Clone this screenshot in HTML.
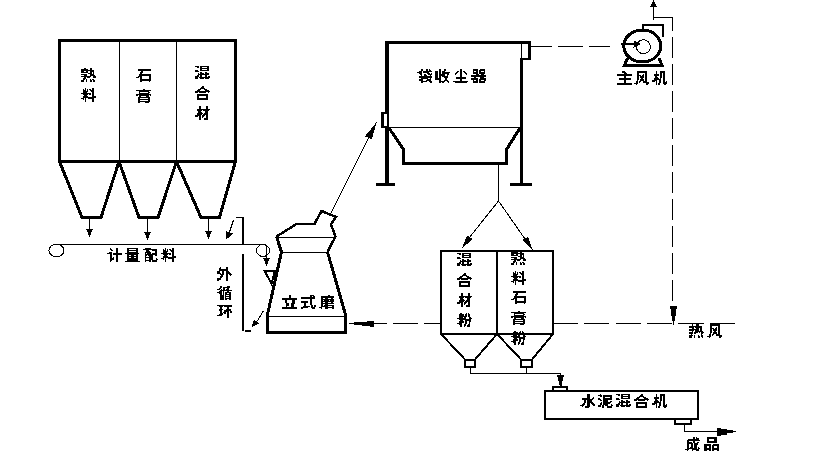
<!DOCTYPE html>
<html><head><meta charset="utf-8"><title>diagram</title>
<style>html,body{margin:0;padding:0;background:#fff;width:837px;height:453px;overflow:hidden;font-family:"Liberation Sans",sans-serif}svg{display:block}</style>
</head><body>
<svg width="837" height="453" viewBox="0 0 837 453" shape-rendering="crispEdges">
<rect width="837" height="453" fill="#fff"/>
<g fill="none" stroke="#000" stroke-linejoin="miter" stroke-miterlimit="10">
<!-- silos -->
<path d="M59.5 40.5H235.5V161.5H59.5Z" stroke-width="3"/>
<path d="M119.5 42V160M176.5 42V160" stroke-width="1"/>
<path d="M59.5 161.5L82 217.5H101L119 161.5" stroke-width="3"/>
<path d="M119 161.5L139 217.5H158L176.5 161.5" stroke-width="3"/>
<path d="M176.5 161.5L201 217.5H219.5L235.5 161.5" stroke-width="3"/>
<!-- down arrows -->
<path d="M89.5 219V232M147.5 219V234M208.5 219V233" stroke-width="1"/>
<path d="M233.6 219.7L229 233" stroke-width="1.3"/>
<!-- belt -->
<path d="M55 244.5H260" stroke-width="1"/>
<ellipse cx="56.5" cy="250.5" rx="7.5" ry="6.2" stroke-width="1"/>
<ellipse cx="263" cy="250.5" rx="6.5" ry="6" stroke-width="1"/>
<path d="M236 217.5H243" stroke-width="1"/>
<path d="M243 217V244M243 254V331" stroke-width="2"/>
<path d="M245 330H251V332H245Z" fill="#000" stroke="none"/>
<path d="M266.5 245V259" stroke-width="1"/>
<path d="M264.5 270.5H275L271.5 284Z" stroke-width="2"/>
<path d="M263.6 310.7L256 323" stroke-width="1"/>
<!-- mill -->
<path d="M276.5 236.5L296.5 224H314.5L321.5 211L336 217L331 224.5L335.5 236.5L327.5 252" stroke-width="2.5"/>
<path d="M327.5 252L345.5 314.6V332.5H267.5V314.6L281.5 252L276.5 236.5" stroke-width="3"/>
<path d="M277 237.5H335M281 252.5H328M268 316.5H345" stroke-width="1"/>
<path d="M331 213L369 137" stroke-width="1"/>
<!-- dust collector -->
<path d="M385 42.5H531" stroke-width="3"/>
<path d="M387 41V185" stroke-width="4"/>
<path d="M521.5 58V185" stroke-width="3"/>
<path d="M521 44H522V58H521Z M528 41H531V60H528Z M520 58H531V60H520Z" fill="#000" stroke="none"/>
<path d="M381 112H387V128H381Z" fill="#000" stroke="none"/><path d="M384 114H387V126H384Z" fill="#fff" stroke="none"/><path d="M387.5 114V126" stroke-width="1"/>
<path d="M376 184.5H395M510 184.5H532" stroke-width="3"/>
<path d="M389 127.5H520" stroke-width="1"/>
<path d="M389 128L403.5 149.5V163.5H506.5V149.5L520 128" stroke-width="3"/>
<path d="M498.5 165V201L469 238M498.5 201L525 239" stroke-width="1"/>
<!-- bins -->
<path d="M441 251H553V334H441Z" stroke-width="2"/>
<path d="M497 251V334" stroke-width="2"/>
<path d="M441 334L465 359.5M497 334L475 359.5M497 334L521 359.5M553 334L532 359.5" stroke-width="2"/>
<path d="M464 359H476V368H464Z M520 359H533V368H520Z" fill="#000" stroke="none"/><path d="M466 361H474V366H466Z M522 361H531V366H522Z" fill="#fff" stroke="none"/>
<path d="M470.5 368V373.5H560.5V376M526.5 368V373.5" stroke-width="1"/>
<!-- mixer -->
<path d="M545 391H698V419H545Z" stroke-width="2"/>
<path d="M552 386H568V391H552Z" fill="#000" stroke="none"/><path d="M554 388H566V390H554Z" fill="#fff" stroke="none"/>
<path d="M674 418H692V425H674Z" fill="#000" stroke="none"/><path d="M676 420H690V423H676Z" fill="#fff" stroke="none"/>
<path d="M684.5 425V431.5H736" stroke-width="1"/>
<!-- fan -->
<ellipse cx="642.3" cy="46" rx="18.5" ry="16" stroke-width="3"/>
<circle cx="643.4" cy="46.7" r="7" stroke-width="1"/>
<path d="M643 30V25H663V37" stroke-width="2"/>
<path d="M627.5 58L624.5 65.5H662L659 58" stroke-width="3"/>
<path d="M620.5 44H636" stroke-width="2"/>
<path d="M653.5 20V6M653 17.5H672.5V31" stroke-width="1"/>
</g>
<g fill="#000">
<path d="M86 229H93L89.5 237Z M144 232H151L147.5 240Z M205 231H212L208.5 239Z"/>
<path d="M226.3 239.5L225.5 231L233 233.5Z"/>
<path d="M263 258H270L266.5 266Z"/>
<path d="M251.6 327.5L254 319.5L259 323.6Z"/>
<path d="M376.6 122.2L364.9 136.3L371.8 139.4Z"/>
<path d="M461.6 249L467 235.7L472.8 238.7Z M532.7 250L522.5 239.7L528 236.7Z"/>
<path d="M557 375H564V377H563V381H562V385L561 386.5L559 385V381H558V377H557Z"/>
<path d="M717 428H721V429H727V430H733V433H727V434.5H721V435.5H717Z"/>
<path d="M641.5 44L633.5 40.5V47.5Z"/>
<path d="M650 7H657L653.5 0Z"/>
<path d="M670 306H677V309H676V315.5H675V321H674V325H673V321H672V315.5H671V309H670Z"/>
<path d="M354 322H367V321H374V327H370V326H362V325H354Z"/>
<rect x="531" y="46" width="21" height="1"/><rect x="558" y="46" width="25" height="1"/><rect x="589" y="46" width="21" height="1"/><rect x="349" y="323" width="38" height="1"/><rect x="393" y="323" width="25" height="1"/><rect x="424" y="323" width="17" height="1"/><rect x="554" y="323" width="24" height="1"/><rect x="584" y="323" width="25" height="1"/><rect x="616" y="323" width="25" height="1"/><rect x="647" y="323" width="25" height="1"/><rect x="678" y="323" width="26" height="1"/><rect x="710" y="323" width="25" height="1"/><rect x="672" y="37" width="1" height="21"/><rect x="672" y="64" width="1" height="21"/><rect x="672" y="91" width="1" height="21"/><rect x="672" y="118" width="1" height="21"/><rect x="672" y="145" width="1" height="21"/><rect x="672" y="172" width="1" height="21"/><rect x="672" y="199" width="1" height="21"/><rect x="672" y="226" width="1" height="21"/><rect x="672" y="253" width="1" height="21"/><rect x="672" y="280" width="1" height="21"/><path d="M84 68h2v1h-2zM90 68h2v1h-2zM81 69h7v1h-7zM90 69h2v1h-2zM81 70h13v1h-13zM81 71h3v1h-3zM86 71h2v1h-2zM90 71h4v1h-4zM81 72h7v1h-7zM90 72h2v1h-2zM93 72h1v1h-1zM88 73h4v1h-4zM93 73h1v1h-1zM81 74h6v1h-6zM90 74h4v1h-4zM84 75h3v1h-3zM90 75h5v1h-5zM81 76h10v1h-10zM93 76h3v1h-3zM84 77h2v1h-2zM87 77h3v1h-3zM93 77h3v1h-3zM83 78h3v1h-3zM83 79h2v1h-2zM86 79h1v1h-1zM90 79h1v1h-1zM92 79h2v1h-2zM81 80h3v1h-3zM86 80h1v1h-1zM90 80h2v1h-2zM93 80h2v1h-2zM81 81h3v1h-3zM86 81h1v1h-1zM90 81h2v1h-2zM93 81h2v1h-2zM85 88h1v1h-1zM92 88h2v1h-2zM83 89h1v1h-1zM85 89h1v1h-1zM87 89h1v1h-1zM89 89h2v1h-2zM92 89h2v1h-2zM83 90h3v1h-3zM87 90h1v1h-1zM90 90h4v1h-4zM83 91h5v1h-5zM91 91h3v1h-3zM83 92h4v1h-4zM92 92h2v1h-2zM81 93h10v1h-10zM92 93h2v1h-2zM83 94h5v1h-5zM89 94h2v1h-2zM92 94h2v1h-2zM84 95h3v1h-3zM92 95h2v1h-2zM83 96h5v1h-5zM92 96h4v1h-4zM83 97h13v1h-13zM81 98h3v1h-3zM85 98h1v1h-1zM88 98h6v1h-6zM83 99h1v1h-1zM85 99h1v1h-1zM92 99h2v1h-2zM85 100h1v1h-1zM92 100h2v1h-2zM85 101h1v1h-1zM92 101h2v1h-2zM138 69h13v1h-13zM138 70h13v1h-13zM141 71h2v1h-2zM140 72h3v1h-3zM140 73h2v1h-2zM139 74h12v1h-12zM139 75h12v1h-12zM138 76h4v1h-4zM149 76h2v1h-2zM136 77h3v1h-3zM140 77h2v1h-2zM149 77h2v1h-2zM140 78h2v1h-2zM149 78h2v1h-2zM140 79h11v1h-11zM140 80h11v1h-11zM140 81h2v1h-2zM149 81h1v1h-1zM143 89h2v1h-2zM136 90h15v1h-15zM139 91h10v1h-10zM139 92h1v1h-1zM148 92h2v1h-2zM139 93h10v1h-10zM136 94h15v1h-15zM136 95h2v1h-2zM139 95h10v1h-10zM150 95h1v1h-1zM139 96h2v1h-2zM146 96h3v1h-3zM138 97h12v1h-12zM138 98h2v1h-2zM148 98h2v1h-2zM138 99h12v1h-12zM138 100h2v1h-2zM148 100h2v1h-2zM138 101h12v1h-12zM138 102h2v1h-2zM145 102h4v1h-4zM195 66h4v1h-4zM200 66h9v1h-9zM197 67h2v1h-2zM200 67h2v1h-2zM207 67h2v1h-2zM200 68h9v1h-9zM200 69h2v1h-2zM207 69h2v1h-2zM195 70h3v1h-3zM200 70h9v1h-9zM195 71h4v1h-4zM200 72h2v1h-2zM205 72h2v1h-2zM198 73h1v1h-1zM200 73h4v1h-4zM205 73h4v1h-4zM198 74h11v1h-11zM197 75h2v1h-2zM200 75h2v1h-2zM205 75h2v1h-2zM195 76h4v1h-4zM200 76h2v1h-2zM205 76h2v1h-2zM208 76h2v1h-2zM195 77h3v1h-3zM199 77h11v1h-11zM195 78h3v1h-3zM200 78h4v1h-4zM205 78h4v1h-4zM202 86h2v1h-2zM201 87h3v1h-3zM200 88h5v1h-5zM198 89h3v1h-3zM204 89h3v1h-3zM197 90h3v1h-3zM205 90h4v1h-4zM195 91h15v1h-15zM195 92h3v1h-3zM199 92h7v1h-7zM208 92h1v1h-1zM197 94h11v1h-11zM197 95h11v1h-11zM197 96h2v1h-2zM206 96h2v1h-2zM197 97h2v1h-2zM206 97h2v1h-2zM197 98h11v1h-11zM197 99h11v1h-11zM199 106h2v1h-2zM206 106h2v1h-2zM199 107h2v1h-2zM206 107h2v1h-2zM199 108h2v1h-2zM206 108h2v1h-2zM197 109h13v1h-13zM197 110h5v1h-5zM203 110h6v1h-6zM198 111h3v1h-3zM205 111h3v1h-3zM198 112h4v1h-4zM205 112h3v1h-3zM197 113h6v1h-6zM204 113h4v1h-4zM197 114h5v1h-5zM203 114h5v1h-5zM195 115h6v1h-6zM202 115h3v1h-3zM206 115h2v1h-2zM195 116h3v1h-3zM199 116h2v1h-2zM202 116h2v1h-2zM206 116h2v1h-2zM199 117h2v1h-2zM202 117h1v1h-1zM206 117h2v1h-2zM199 118h2v1h-2zM204 118h4v1h-4zM199 119h2v1h-2zM204 119h4v1h-4zM110 248h1v1h-1zM116 248h2v1h-2zM110 249h2v1h-2zM116 249h2v1h-2zM111 250h2v1h-2zM116 250h2v1h-2zM116 251h2v1h-2zM109 252h3v1h-3zM116 252h2v1h-2zM107 253h5v1h-5zM113 253h9v1h-9zM110 254h2v1h-2zM113 254h9v1h-9zM110 255h2v1h-2zM116 255h2v1h-2zM110 256h2v1h-2zM116 256h2v1h-2zM110 257h2v1h-2zM113 257h1v1h-1zM116 257h2v1h-2zM110 258h4v1h-4zM116 258h2v1h-2zM110 259h4v1h-4zM116 259h2v1h-2zM110 260h2v1h-2zM116 260h2v1h-2zM110 261h1v1h-1zM116 261h2v1h-2zM127 248h11v1h-11zM127 249h2v1h-2zM136 249h2v1h-2zM127 250h11v1h-11zM127 251h2v1h-2zM136 251h2v1h-2zM127 252h11v1h-11zM125 253h14v1h-14zM127 254h11v1h-11zM127 255h2v1h-2zM131 255h3v1h-3zM136 255h2v1h-2zM127 256h11v1h-11zM127 257h2v1h-2zM131 257h3v1h-3zM136 257h2v1h-2zM127 258h11v1h-11zM127 259h11v1h-11zM127 260h11v1h-11zM125 261h15v1h-15zM145 248h6v1h-6zM143 249h14v1h-14zM146 250h3v1h-3zM152 250h5v1h-5zM146 251h4v1h-4zM155 251h2v1h-2zM145 252h6v1h-6zM155 252h2v1h-2zM145 253h1v1h-1zM147 253h4v1h-4zM152 253h5v1h-5zM145 254h12v1h-12zM145 255h2v1h-2zM148 255h5v1h-5zM155 255h2v1h-2zM145 256h1v1h-1zM149 256h4v1h-4zM145 257h8v1h-8zM145 258h1v1h-1zM149 258h4v1h-4zM156 258h1v1h-1zM145 259h1v1h-1zM149 259h4v1h-4zM156 259h2v1h-2zM145 260h6v1h-6zM152 260h5v1h-5zM145 261h1v1h-1zM149 261h2v1h-2zM152 261h5v1h-5zM165 248h1v1h-1zM172 248h2v1h-2zM163 249h1v1h-1zM165 249h1v1h-1zM167 249h1v1h-1zM169 249h2v1h-2zM172 249h2v1h-2zM163 250h3v1h-3zM167 250h1v1h-1zM170 250h4v1h-4zM163 251h5v1h-5zM171 251h3v1h-3zM163 252h4v1h-4zM172 252h2v1h-2zM161 253h10v1h-10zM172 253h2v1h-2zM163 254h5v1h-5zM169 254h2v1h-2zM172 254h2v1h-2zM164 255h3v1h-3zM172 255h2v1h-2zM163 256h5v1h-5zM172 256h4v1h-4zM163 257h13v1h-13zM161 258h3v1h-3zM165 258h1v1h-1zM168 258h6v1h-6zM163 259h1v1h-1zM165 259h1v1h-1zM172 259h2v1h-2zM165 260h1v1h-1zM172 260h2v1h-2zM165 261h1v1h-1zM172 261h2v1h-2zM220 267h1v1h-1zM226 267h2v1h-2zM219 268h2v1h-2zM226 268h2v1h-2zM219 269h9v1h-9zM219 270h9v1h-9zM217 271h3v1h-3zM222 271h2v1h-2zM226 271h3v1h-3zM217 272h3v1h-3zM222 272h2v1h-2zM226 272h4v1h-4zM217 273h4v1h-4zM222 273h2v1h-2zM226 273h5v1h-5zM220 274h4v1h-4zM226 274h2v1h-2zM229 274h3v1h-3zM221 275h2v1h-2zM226 275h2v1h-2zM230 275h1v1h-1zM220 276h3v1h-3zM226 276h2v1h-2zM220 277h2v1h-2zM226 277h2v1h-2zM217 278h4v1h-4zM226 278h2v1h-2zM217 279h4v1h-4zM226 279h2v1h-2zM217 280h2v1h-2zM226 280h2v1h-2zM220 286h2v1h-2zM227 286h3v1h-3zM220 287h2v1h-2zM223 287h7v1h-7zM219 288h2v1h-2zM223 288h2v1h-2zM227 288h2v1h-2zM217 289h3v1h-3zM221 289h1v1h-1zM223 289h2v1h-2zM226 289h3v1h-3zM220 290h12v1h-12zM219 291h3v1h-3zM223 291h1v1h-1zM227 291h2v1h-2zM217 292h5v1h-5zM223 292h1v1h-1zM225 292h6v1h-6zM219 293h3v1h-3zM223 293h1v1h-1zM225 293h2v1h-2zM229 293h2v1h-2zM220 294h2v1h-2zM223 294h1v1h-1zM225 294h6v1h-6zM220 295h4v1h-4zM225 295h1v1h-1zM229 295h2v1h-2zM220 296h4v1h-4zM225 296h6v1h-6zM220 297h4v1h-4zM225 297h1v1h-1zM229 297h2v1h-2zM220 298h4v1h-4zM225 298h6v1h-6zM220 299h4v1h-4zM225 299h2v1h-2zM229 299h2v1h-2zM217 305h15v1h-15zM219 306h4v1h-4zM224 306h8v1h-8zM220 307h2v1h-2zM227 307h2v1h-2zM220 308h2v1h-2zM227 308h2v1h-2zM219 309h4v1h-4zM226 309h5v1h-5zM219 310h3v1h-3zM224 310h7v1h-7zM220 311h2v1h-2zM224 311h5v1h-5zM230 311h2v1h-2zM220 312h2v1h-2zM223 312h3v1h-3zM227 312h2v1h-2zM230 312h2v1h-2zM220 313h3v1h-3zM224 313h2v1h-2zM227 313h2v1h-2zM219 314h4v1h-4zM227 314h2v1h-2zM217 315h5v1h-5zM227 315h2v1h-2zM227 316h2v1h-2zM227 317h2v1h-2zM289 295h2v1h-2zM289 296h2v1h-2zM289 297h2v1h-2zM282 298h15v1h-15zM282 299h15v1h-15zM285 300h2v1h-2zM292 300h3v1h-3zM285 301h2v1h-2zM292 301h3v1h-3zM285 302h2v1h-2zM292 302h3v1h-3zM286 303h3v1h-3zM291 303h4v1h-4zM286 304h3v1h-3zM291 304h3v1h-3zM286 305h3v1h-3zM291 305h3v1h-3zM286 306h1v1h-1zM291 306h3v1h-3zM282 307h15v1h-15zM282 308h15v1h-15zM310 295h4v1h-4zM310 296h2v1h-2zM313 296h2v1h-2zM301 297h14v1h-14zM301 298h14v1h-14zM310 299h2v1h-2zM310 300h2v1h-2zM301 301h7v1h-7zM310 301h2v1h-2zM301 302h7v1h-7zM310 302h2v1h-2zM304 303h2v1h-2zM310 303h2v1h-2zM304 304h2v1h-2zM310 304h2v1h-2zM304 305h2v1h-2zM311 305h2v1h-2zM314 305h2v1h-2zM303 306h7v1h-7zM311 306h2v1h-2zM314 306h2v1h-2zM301 307h7v1h-7zM311 307h4v1h-4zM301 308h2v1h-2zM312 308h3v1h-3zM328 295h2v1h-2zM321 296h13v1h-13zM321 297h13v1h-13zM321 298h2v1h-2zM325 298h3v1h-3zM331 298h2v1h-2zM321 299h13v1h-13zM321 300h2v1h-2zM324 300h5v1h-5zM330 300h4v1h-4zM321 301h13v1h-13zM321 302h2v1h-2zM325 302h3v1h-3zM331 302h2v1h-2zM321 303h13v1h-13zM321 304h2v1h-2zM325 304h3v1h-3zM321 305h2v1h-2zM324 305h10v1h-10zM321 306h7v1h-7zM332 306h2v1h-2zM319 307h3v1h-3zM325 307h9v1h-9zM321 308h1v1h-1zM325 308h3v1h-3zM332 308h2v1h-2zM421 69h2v1h-2zM426 69h2v1h-2zM429 69h1v1h-1zM421 70h2v1h-2zM426 70h2v1h-2zM429 70h2v1h-2zM419 71h3v1h-3zM423 71h9v1h-9zM417 72h5v1h-5zM423 72h6v1h-6zM419 73h3v1h-3zM427 73h3v1h-3zM431 73h1v1h-1zM420 74h2v1h-2zM424 74h2v1h-2zM428 74h4v1h-4zM421 75h1v1h-1zM424 75h3v1h-3zM430 75h1v1h-1zM419 76h13v1h-13zM419 77h13v1h-13zM421 78h7v1h-7zM430 78h1v1h-1zM419 79h4v1h-4zM427 79h4v1h-4zM419 80h4v1h-4zM426 80h5v1h-5zM421 81h6v1h-6zM429 81h3v1h-3zM421 82h2v1h-2zM430 82h2v1h-2zM439 69h2v1h-2zM444 69h2v1h-2zM439 70h2v1h-2zM444 70h2v1h-2zM435 71h3v1h-3zM439 71h2v1h-2zM442 71h3v1h-3zM435 72h3v1h-3zM439 72h2v1h-2zM442 72h8v1h-8zM435 73h3v1h-3zM439 73h2v1h-2zM442 73h7v1h-7zM435 74h3v1h-3zM439 74h6v1h-6zM447 74h2v1h-2zM435 75h3v1h-3zM439 75h6v1h-6zM447 75h1v1h-1zM435 76h3v1h-3zM439 76h2v1h-2zM442 76h6v1h-6zM435 77h3v1h-3zM439 77h2v1h-2zM444 77h4v1h-4zM435 78h6v1h-6zM445 78h2v1h-2zM435 79h6v1h-6zM445 79h2v1h-2zM439 80h2v1h-2zM444 80h4v1h-4zM439 81h6v1h-6zM447 81h2v1h-2zM439 82h2v1h-2zM442 82h2v1h-2zM448 82h1v1h-1zM460 69h2v1h-2zM460 70h2v1h-2zM457 71h2v1h-2zM460 71h2v1h-2zM463 71h2v1h-2zM456 72h2v1h-2zM460 72h2v1h-2zM464 72h2v1h-2zM455 73h2v1h-2zM460 73h2v1h-2zM465 73h2v1h-2zM455 74h1v1h-1zM460 74h2v1h-2zM466 74h1v1h-1zM460 75h2v1h-2zM460 76h2v1h-2zM456 77h10v1h-10zM456 78h10v1h-10zM460 79h2v1h-2zM460 80h2v1h-2zM453 81h15v1h-15zM455 82h12v1h-12zM473 69h5v1h-5zM480 69h5v1h-5zM473 70h5v1h-5zM479 70h6v1h-6zM473 71h1v1h-1zM476 71h2v1h-2zM479 71h2v1h-2zM484 71h1v1h-1zM473 72h5v1h-5zM479 72h6v1h-6zM473 73h5v1h-5zM479 73h6v1h-6zM476 74h3v1h-3zM481 74h3v1h-3zM471 75h15v1h-15zM471 76h15v1h-15zM474 77h2v1h-2zM480 77h4v1h-4zM471 78h7v1h-7zM480 78h6v1h-6zM471 79h7v1h-7zM479 79h7v1h-7zM473 80h1v1h-1zM476 80h2v1h-2zM479 80h2v1h-2zM484 80h2v1h-2zM473 81h5v1h-5zM479 81h6v1h-6zM473 82h5v1h-5zM479 82h6v1h-6zM622 71h3v1h-3zM622 72h4v1h-4zM624 73h3v1h-3zM617 74h15v1h-15zM617 75h15v1h-15zM624 76h2v1h-2zM624 77h2v1h-2zM619 78h12v1h-12zM619 79h12v1h-12zM624 80h2v1h-2zM624 81h2v1h-2zM624 82h2v1h-2zM617 83h15v1h-15zM617 84h15v1h-15zM637 71h10v1h-10zM637 72h10v1h-10zM637 73h2v1h-2zM645 73h2v1h-2zM637 74h2v1h-2zM643 74h1v1h-1zM645 74h2v1h-2zM637 75h4v1h-4zM642 75h2v1h-2zM645 75h2v1h-2zM637 76h2v1h-2zM640 76h4v1h-4zM645 76h2v1h-2zM637 77h2v1h-2zM640 77h4v1h-4zM645 77h2v1h-2zM637 78h2v1h-2zM641 78h2v1h-2zM645 78h2v1h-2zM637 79h2v1h-2zM640 79h4v1h-4zM645 79h2v1h-2zM637 80h1v1h-1zM640 80h4v1h-4zM645 80h2v1h-2zM636 81h2v1h-2zM639 81h2v1h-2zM643 81h4v1h-4zM636 82h2v1h-2zM639 82h1v1h-1zM643 82h6v1h-6zM634 83h4v1h-4zM646 83h3v1h-3zM636 84h1v1h-1zM646 84h2v1h-2zM656 71h1v1h-1zM660 71h5v1h-5zM656 72h1v1h-1zM660 72h5v1h-5zM656 73h1v1h-1zM660 73h2v1h-2zM663 73h2v1h-2zM654 74h5v1h-5zM660 74h2v1h-2zM663 74h2v1h-2zM654 75h5v1h-5zM660 75h2v1h-2zM663 75h2v1h-2zM655 76h2v1h-2zM660 76h2v1h-2zM663 76h2v1h-2zM655 77h3v1h-3zM660 77h2v1h-2zM663 77h2v1h-2zM654 78h5v1h-5zM660 78h1v1h-1zM663 78h2v1h-2zM654 79h7v1h-7zM663 79h2v1h-2zM652 80h5v1h-5zM659 80h2v1h-2zM663 80h2v1h-2zM652 81h3v1h-3zM656 81h1v1h-1zM659 81h2v1h-2zM663 81h2v1h-2zM666 81h1v1h-1zM656 82h1v1h-1zM659 82h2v1h-2zM663 82h4v1h-4zM656 83h1v1h-1zM658 83h2v1h-2zM663 83h4v1h-4zM656 84h1v1h-1zM658 84h2v1h-2zM664 84h2v1h-2zM457 253h4v1h-4zM462 253h9v1h-9zM459 254h2v1h-2zM462 254h2v1h-2zM469 254h2v1h-2zM462 255h9v1h-9zM462 256h2v1h-2zM469 256h2v1h-2zM457 257h3v1h-3zM462 257h9v1h-9zM457 258h4v1h-4zM462 259h2v1h-2zM467 259h2v1h-2zM460 260h1v1h-1zM462 260h4v1h-4zM467 260h4v1h-4zM460 261h11v1h-11zM459 262h2v1h-2zM462 262h2v1h-2zM467 262h2v1h-2zM457 263h4v1h-4zM462 263h2v1h-2zM467 263h2v1h-2zM470 263h2v1h-2zM457 264h3v1h-3zM461 264h11v1h-11zM457 265h3v1h-3zM462 265h4v1h-4zM467 265h4v1h-4zM464 273h2v1h-2zM463 274h3v1h-3zM462 275h5v1h-5zM460 276h3v1h-3zM466 276h3v1h-3zM459 277h3v1h-3zM467 277h4v1h-4zM457 278h15v1h-15zM457 279h3v1h-3zM461 279h7v1h-7zM470 279h1v1h-1zM459 281h11v1h-11zM459 282h11v1h-11zM459 283h2v1h-2zM468 283h2v1h-2zM459 284h2v1h-2zM468 284h2v1h-2zM459 285h11v1h-11zM459 286h11v1h-11zM461 293h2v1h-2zM468 293h2v1h-2zM461 294h2v1h-2zM468 294h2v1h-2zM461 295h2v1h-2zM468 295h2v1h-2zM459 296h13v1h-13zM459 297h5v1h-5zM465 297h6v1h-6zM460 298h3v1h-3zM467 298h3v1h-3zM460 299h4v1h-4zM467 299h3v1h-3zM459 300h6v1h-6zM466 300h4v1h-4zM459 301h5v1h-5zM465 301h5v1h-5zM457 302h6v1h-6zM464 302h3v1h-3zM468 302h2v1h-2zM457 303h3v1h-3zM461 303h2v1h-2zM464 303h2v1h-2zM468 303h2v1h-2zM461 304h2v1h-2zM464 304h1v1h-1zM468 304h2v1h-2zM461 305h2v1h-2zM466 305h4v1h-4zM461 306h2v1h-2zM466 306h4v1h-4zM460 313h2v1h-2zM466 313h1v1h-1zM468 313h1v1h-1zM459 314h5v1h-5zM465 314h2v1h-2zM468 314h2v1h-2zM459 315h5v1h-5zM465 315h2v1h-2zM468 315h2v1h-2zM459 316h8v1h-8zM468 316h2v1h-2zM459 317h4v1h-4zM464 317h2v1h-2zM469 317h2v1h-2zM457 318h9v1h-9zM469 318h3v1h-3zM459 319h12v1h-12zM460 320h3v1h-3zM465 320h6v1h-6zM459 321h5v1h-5zM465 321h2v1h-2zM469 321h2v1h-2zM459 322h5v1h-5zM465 322h2v1h-2zM469 322h1v1h-1zM457 323h5v1h-5zM465 323h2v1h-2zM469 323h1v1h-1zM459 324h3v1h-3zM464 324h2v1h-2zM468 324h2v1h-2zM460 325h2v1h-2zM464 325h2v1h-2zM467 325h3v1h-3zM460 326h2v1h-2zM464 326h1v1h-1zM467 326h3v1h-3zM514 251h2v1h-2zM520 251h2v1h-2zM511 252h7v1h-7zM520 252h2v1h-2zM511 253h13v1h-13zM511 254h3v1h-3zM516 254h2v1h-2zM520 254h4v1h-4zM511 255h7v1h-7zM520 255h2v1h-2zM523 255h1v1h-1zM518 256h4v1h-4zM523 256h1v1h-1zM511 257h6v1h-6zM520 257h4v1h-4zM514 258h3v1h-3zM520 258h5v1h-5zM511 259h10v1h-10zM523 259h3v1h-3zM514 260h2v1h-2zM517 260h3v1h-3zM523 260h3v1h-3zM513 261h3v1h-3zM513 262h2v1h-2zM516 262h1v1h-1zM520 262h1v1h-1zM522 262h2v1h-2zM511 263h3v1h-3zM516 263h1v1h-1zM520 263h2v1h-2zM523 263h2v1h-2zM511 264h3v1h-3zM516 264h1v1h-1zM520 264h2v1h-2zM523 264h2v1h-2zM515 271h1v1h-1zM522 271h2v1h-2zM513 272h1v1h-1zM515 272h1v1h-1zM517 272h1v1h-1zM519 272h2v1h-2zM522 272h2v1h-2zM513 273h3v1h-3zM517 273h1v1h-1zM520 273h4v1h-4zM513 274h5v1h-5zM521 274h3v1h-3zM513 275h4v1h-4zM522 275h2v1h-2zM511 276h10v1h-10zM522 276h2v1h-2zM513 277h5v1h-5zM519 277h2v1h-2zM522 277h2v1h-2zM514 278h3v1h-3zM522 278h2v1h-2zM513 279h5v1h-5zM522 279h4v1h-4zM513 280h13v1h-13zM511 281h3v1h-3zM515 281h1v1h-1zM518 281h6v1h-6zM513 282h1v1h-1zM515 282h1v1h-1zM522 282h2v1h-2zM515 283h1v1h-1zM522 283h2v1h-2zM515 284h1v1h-1zM522 284h2v1h-2zM513 291h13v1h-13zM513 292h13v1h-13zM516 293h2v1h-2zM515 294h3v1h-3zM515 295h2v1h-2zM514 296h12v1h-12zM514 297h12v1h-12zM513 298h4v1h-4zM524 298h2v1h-2zM511 299h3v1h-3zM515 299h2v1h-2zM524 299h2v1h-2zM515 300h2v1h-2zM524 300h2v1h-2zM515 301h11v1h-11zM515 302h11v1h-11zM515 303h2v1h-2zM524 303h1v1h-1zM518 311h2v1h-2zM511 312h15v1h-15zM514 313h10v1h-10zM514 314h1v1h-1zM523 314h2v1h-2zM514 315h10v1h-10zM511 316h15v1h-15zM511 317h2v1h-2zM514 317h10v1h-10zM525 317h1v1h-1zM514 318h2v1h-2zM521 318h3v1h-3zM513 319h12v1h-12zM513 320h2v1h-2zM523 320h2v1h-2zM513 321h12v1h-12zM513 322h2v1h-2zM523 322h2v1h-2zM513 323h12v1h-12zM513 324h2v1h-2zM520 324h4v1h-4zM514 331h2v1h-2zM520 331h1v1h-1zM522 331h1v1h-1zM513 332h5v1h-5zM519 332h2v1h-2zM522 332h2v1h-2zM513 333h5v1h-5zM519 333h2v1h-2zM522 333h2v1h-2zM513 334h8v1h-8zM522 334h2v1h-2zM513 335h4v1h-4zM518 335h2v1h-2zM523 335h2v1h-2zM511 336h9v1h-9zM523 336h3v1h-3zM513 337h12v1h-12zM514 338h3v1h-3zM519 338h6v1h-6zM513 339h5v1h-5zM519 339h2v1h-2zM523 339h2v1h-2zM513 340h5v1h-5zM519 340h2v1h-2zM523 340h1v1h-1zM511 341h5v1h-5zM519 341h2v1h-2zM523 341h1v1h-1zM513 342h3v1h-3zM518 342h2v1h-2zM522 342h2v1h-2zM514 343h2v1h-2zM518 343h2v1h-2zM521 343h3v1h-3zM514 344h2v1h-2zM518 344h1v1h-1zM521 344h3v1h-3zM692 324h1v1h-1zM696 324h3v1h-3zM692 325h1v1h-1zM696 325h3v1h-3zM689 326h13v1h-13zM689 327h5v1h-5zM695 327h7v1h-7zM692 328h2v1h-2zM696 328h3v1h-3zM700 328h2v1h-2zM689 329h10v1h-10zM700 329h2v1h-2zM689 330h5v1h-5zM695 330h4v1h-4zM700 330h2v1h-2zM692 331h1v1h-1zM695 331h8v1h-8zM689 332h4v1h-4zM694 332h4v1h-4zM699 332h1v1h-1zM701 332h3v1h-3zM689 333h4v1h-4zM694 333h2v1h-2zM701 333h2v1h-2zM691 334h1v1h-1zM701 334h1v1h-1zM689 335h4v1h-4zM694 335h1v1h-1zM698 335h1v1h-1zM701 335h2v1h-2zM689 336h3v1h-3zM694 336h1v1h-1zM698 336h2v1h-2zM701 336h2v1h-2zM689 337h3v1h-3zM694 337h1v1h-1zM698 337h2v1h-2zM702 337h1v1h-1zM710 324h10v1h-10zM710 325h10v1h-10zM710 326h2v1h-2zM718 326h2v1h-2zM710 327h2v1h-2zM716 327h1v1h-1zM718 327h2v1h-2zM710 328h4v1h-4zM715 328h2v1h-2zM718 328h2v1h-2zM710 329h2v1h-2zM713 329h4v1h-4zM718 329h2v1h-2zM710 330h2v1h-2zM713 330h4v1h-4zM718 330h2v1h-2zM710 331h2v1h-2zM714 331h2v1h-2zM718 331h2v1h-2zM710 332h2v1h-2zM713 332h4v1h-4zM718 332h2v1h-2zM710 333h1v1h-1zM713 333h4v1h-4zM718 333h2v1h-2zM709 334h2v1h-2zM712 334h2v1h-2zM716 334h4v1h-4zM709 335h2v1h-2zM712 335h1v1h-1zM716 335h6v1h-6zM707 336h4v1h-4zM719 336h3v1h-3zM709 337h1v1h-1zM719 337h2v1h-2zM587 394h3v1h-3zM587 395h3v1h-3zM587 396h3v1h-3zM587 397h3v1h-3zM593 397h1v1h-1zM582 398h8v1h-8zM592 398h2v1h-2zM582 399h11v1h-11zM584 400h2v1h-2zM587 400h5v1h-5zM584 401h2v1h-2zM587 401h5v1h-5zM584 402h2v1h-2zM587 402h6v1h-6zM583 403h2v1h-2zM587 403h3v1h-3zM591 403h3v1h-3zM582 404h3v1h-3zM587 404h3v1h-3zM592 404h3v1h-3zM580 405h4v1h-4zM587 405h3v1h-3zM593 405h2v1h-2zM582 406h1v1h-1zM585 406h5v1h-5zM585 407h4v1h-4zM600 394h1v1h-1zM598 395h4v1h-4zM603 395h9v1h-9zM600 396h2v1h-2zM603 396h9v1h-9zM603 397h2v1h-2zM610 397h2v1h-2zM598 398h2v1h-2zM603 398h9v1h-9zM598 399h3v1h-3zM603 399h9v1h-9zM600 400h2v1h-2zM603 400h5v1h-5zM603 401h5v1h-5zM610 401h2v1h-2zM601 402h1v1h-1zM603 402h8v1h-8zM600 403h2v1h-2zM603 403h7v1h-7zM600 404h2v1h-2zM603 404h5v1h-5zM611 404h1v1h-1zM598 405h3v1h-3zM602 405h2v1h-2zM605 405h3v1h-3zM611 405h2v1h-2zM598 406h3v1h-3zM602 406h2v1h-2zM607 406h5v1h-5zM602 407h2v1h-2zM607 407h5v1h-5zM616 394h4v1h-4zM621 394h9v1h-9zM618 395h2v1h-2zM621 395h2v1h-2zM628 395h2v1h-2zM621 396h9v1h-9zM621 397h2v1h-2zM628 397h2v1h-2zM616 398h3v1h-3zM621 398h9v1h-9zM616 399h4v1h-4zM621 400h2v1h-2zM626 400h2v1h-2zM619 401h1v1h-1zM621 401h4v1h-4zM626 401h4v1h-4zM619 402h11v1h-11zM618 403h2v1h-2zM621 403h2v1h-2zM626 403h2v1h-2zM616 404h4v1h-4zM621 404h2v1h-2zM626 404h2v1h-2zM629 404h2v1h-2zM616 405h3v1h-3zM620 405h11v1h-11zM616 406h3v1h-3zM621 406h4v1h-4zM626 406h4v1h-4zM641 394h2v1h-2zM640 395h3v1h-3zM639 396h5v1h-5zM637 397h3v1h-3zM643 397h3v1h-3zM636 398h3v1h-3zM644 398h4v1h-4zM634 399h15v1h-15zM634 400h3v1h-3zM638 400h7v1h-7zM647 400h1v1h-1zM636 402h11v1h-11zM636 403h11v1h-11zM636 404h2v1h-2zM645 404h2v1h-2zM636 405h2v1h-2zM645 405h2v1h-2zM636 406h11v1h-11zM636 407h11v1h-11zM656 394h1v1h-1zM660 394h5v1h-5zM656 395h1v1h-1zM660 395h5v1h-5zM656 396h1v1h-1zM660 396h2v1h-2zM663 396h2v1h-2zM654 397h5v1h-5zM660 397h2v1h-2zM663 397h2v1h-2zM654 398h5v1h-5zM660 398h2v1h-2zM663 398h2v1h-2zM655 399h2v1h-2zM660 399h2v1h-2zM663 399h2v1h-2zM655 400h3v1h-3zM660 400h2v1h-2zM663 400h2v1h-2zM654 401h5v1h-5zM660 401h1v1h-1zM663 401h2v1h-2zM654 402h7v1h-7zM663 402h2v1h-2zM652 403h5v1h-5zM659 403h2v1h-2zM663 403h2v1h-2zM652 404h3v1h-3zM656 404h1v1h-1zM659 404h2v1h-2zM663 404h2v1h-2zM666 404h1v1h-1zM656 405h1v1h-1zM659 405h2v1h-2zM663 405h4v1h-4zM656 406h1v1h-1zM658 406h2v1h-2zM663 406h4v1h-4zM656 407h1v1h-1zM658 407h2v1h-2zM664 407h2v1h-2zM693 437h2v1h-2zM696 437h1v1h-1zM693 438h2v1h-2zM696 438h3v1h-3zM688 439h11v1h-11zM687 440h13v1h-13zM687 441h2v1h-2zM693 441h2v1h-2zM687 442h5v1h-5zM693 442h2v1h-2zM697 442h2v1h-2zM687 443h6v1h-6zM694 443h4v1h-4zM687 444h2v1h-2zM691 444h2v1h-2zM694 444h4v1h-4zM687 445h2v1h-2zM691 445h2v1h-2zM694 445h3v1h-3zM687 446h2v1h-2zM691 446h2v1h-2zM694 446h3v1h-3zM687 447h2v1h-2zM690 447h3v1h-3zM694 447h3v1h-3zM698 447h1v1h-1zM687 448h10v1h-10zM698 448h2v1h-2zM685 449h4v1h-4zM692 449h7v1h-7zM687 450h1v1h-1zM692 450h1v1h-1zM696 450h3v1h-3zM707 437h10v1h-10zM707 438h10v1h-10zM707 439h2v1h-2zM714 439h3v1h-3zM707 440h2v1h-2zM714 440h3v1h-3zM707 441h10v1h-10zM707 442h10v1h-10zM704 444h7v1h-7zM713 444h6v1h-6zM704 445h7v1h-7zM712 445h7v1h-7zM704 446h3v1h-3zM709 446h2v1h-2zM712 446h2v1h-2zM717 446h2v1h-2zM704 447h3v1h-3zM709 447h2v1h-2zM712 447h2v1h-2zM717 447h2v1h-2zM704 448h7v1h-7zM712 448h7v1h-7zM704 449h7v1h-7zM712 449h7v1h-7zM704 450h3v1h-3zM709 450h2v1h-2zM712 450h2v1h-2zM717 450h2v1h-2z"/>
</g>
</svg>
</body></html>
